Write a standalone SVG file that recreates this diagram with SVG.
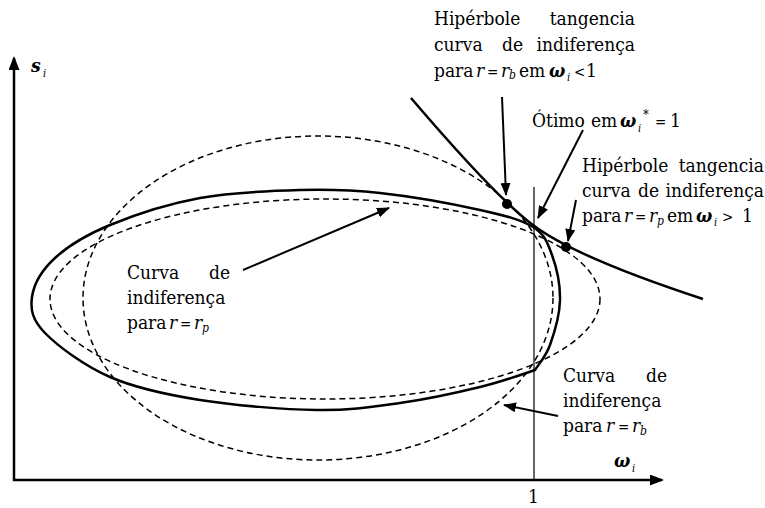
<svg xmlns="http://www.w3.org/2000/svg" width="765" height="508" viewBox="0 0 765 508">
<style>
text{font-family:'DejaVu Serif Condensed','DejaVu Serif',serif;font-size:19px;fill:#000}
.it{font-style:italic}
.sb{font-size:12px;font-style:italic}
.si{font-size:11px;font-style:italic}
.op{font-size:15px}
.gr{font-style:italic;font-weight:bold}
.solid{fill:none;stroke:#000;stroke-width:2.5}
.dash{fill:none;stroke:#000;stroke-width:1.5;stroke-dasharray:6 4}
.arr{fill:none;stroke:#000;stroke-width:2;marker-end:url(#ah)}
.axis{fill:none;stroke:#000;stroke-width:2.5;marker-end:url(#ahx)}
</style>
<defs>
<marker id="ah" markerUnits="userSpaceOnUse" markerWidth="13" markerHeight="10" refX="12" refY="5" orient="auto">
<path d="M0,0 L13,5 L0,10 z" fill="#000"/>
</marker>
<marker id="ahx" markerUnits="userSpaceOnUse" markerWidth="14" markerHeight="11" refX="12" refY="5.5" orient="auto">
<path d="M0,0 L14,5.5 L0,11 z" fill="#000"/>
</marker>
</defs>
<rect width="765" height="508" fill="#fff"/>

<g id="axes">
<line class="axis" x1="14" y1="481" x2="14" y2="58"/>
<line class="axis" x1="13" y1="480" x2="662" y2="480"/>
<line x1="534" y1="187" x2="534" y2="480" stroke="#000" stroke-width="1.2"/>
<text class="gr" x="31" y="72">s</text><text class="si" x="43" y="77">i</text>
<text class="gr" x="614" y="467">ω</text><text class="si" x="632" y="472">i</text>
<text x="528" y="503">1</text>
</g>

<g id="curve-rb">
<ellipse class="dash" cx="318" cy="298" rx="235" ry="162"/>
</g>
<g id="curve-rp">
<ellipse class="dash" cx="325" cy="299" rx="275" ry="100"/>
</g>
<g id="curve-solid">
<path class="solid" d="M533,227 C521,219.5 505.5,215.7 480,210 C454.5,204.3 410,196.3 380,193 C350,189.7 330,189.2 300,190 C270,190.8 231.7,192.2 200,198 C168.3,203.8 134.2,215 110,225 C85.8,235 68,246 55,258 C42,270 33.7,284.5 32,297 C30.3,309.5 32,319.7 45,333 C58,346.3 84.2,365.8 110,377 C135.8,388.2 165.5,394.5 200,400 C234.5,405.5 283.7,409.5 317,410 C350.3,410.5 372.8,406.8 400,403 C427.2,399.2 457.5,392.5 480,387 C502.5,381.5 519.2,375.3 535,370 C539.2,363.3 545.8,356.7 550,345 C554.2,333.3 559.7,315 560,300 C560.3,285 556.5,267.2 552,255 C547.5,242.8 545,234.5 533,227 Z"/>
</g>
<g id="hyperbola">
<path class="solid" d="M411,98 Q496.4,197.9 533,225 Q575,257 703,299"/>
<circle cx="507" cy="204" r="5"/>
<circle cx="566" cy="247" r="5"/>
</g>

<g id="connectors">
<line class="arr" x1="502" y1="97" x2="506" y2="195"/>
<line class="arr" x1="583" y1="130" x2="538" y2="218"/>
<line class="arr" x1="576" y1="200" x2="568" y2="241"/>
<line class="arr" x1="243" y1="270" x2="389" y2="208"/>
<line class="arr" x1="558" y1="416" x2="504" y2="405"/>
</g>

<g id="label-top">
<text x="434" y="25">Hipérbole</text>
<text x="635" y="25" text-anchor="end">tangencia</text>
<text x="434" y="51">curva</text>
<text x="502" y="51">de</text>
<text x="635" y="51" text-anchor="end">indiferença</text>
<text y="77"><tspan x="434">para</tspan><tspan class="it" x="476">r</tspan><tspan class="op" x="487">=</tspan><tspan class="it" x="501">r</tspan><tspan class="sb" x="509" dy="2">b</tspan><tspan x="519" dy="-2">em</tspan><tspan class="gr" x="549">ω</tspan><tspan class="si" x="567" dy="4">i</tspan><tspan class="op" x="574" dy="-4">&lt;</tspan><tspan x="586">1</tspan></text>
</g>

<g id="label-otimo">
<text y="127"><tspan x="532">Ótimo</tspan><tspan x="591">em</tspan><tspan class="gr" x="620">ω</tspan><tspan class="si" x="638" dy="5">i</tspan><tspan x="643" dy="-13" font-size="13">*</tspan><tspan class="op" x="655" dy="8">=</tspan><tspan x="670">1</tspan></text>
</g>

<g id="label-right">
<text x="582" y="172">Hipérbole</text>
<text x="764" y="172" text-anchor="end">tangencia</text>
<text x="582" y="197">curva</text>
<text x="638" y="197">de</text>
<text x="764" y="197" text-anchor="end">indiferença</text>
<text y="222"><tspan x="582">para</tspan><tspan class="it" x="624">r</tspan><tspan class="op" x="635">=</tspan><tspan class="it" x="649">r</tspan><tspan class="sb" x="657" dy="3">p</tspan><tspan x="667" dy="-3">em</tspan><tspan class="gr" x="696">ω</tspan><tspan class="si" x="714" dy="4">i</tspan><tspan class="op" x="722" dy="-4">&gt;</tspan><tspan x="742">1</tspan></text>
</g>

<g id="label-rp">
<text x="127" y="279">Curva</text>
<text x="230" y="279" text-anchor="end">de</text>
<text x="127" y="304">indiferença</text>
<text y="329"><tspan x="127">para</tspan><tspan class="it" x="169">r</tspan><tspan class="op" x="180">=</tspan><tspan class="it" x="194">r</tspan><tspan class="sb" x="202" dy="3">p</tspan></text>
</g>

<g id="label-rb">
<text x="563" y="382">Curva</text>
<text x="667" y="382" text-anchor="end">de</text>
<text x="563" y="407">indiferença</text>
<text y="432"><tspan x="563">para</tspan><tspan class="it" x="606">r</tspan><tspan class="op" x="618">=</tspan><tspan class="it" x="632">r</tspan><tspan class="sb" x="640" dy="3">b</tspan></text>
</g>
</svg>
